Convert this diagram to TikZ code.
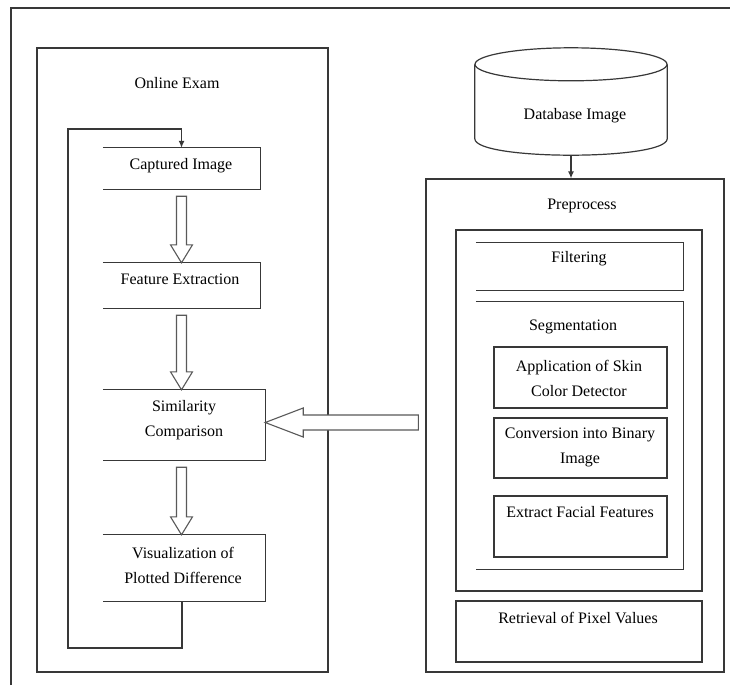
\documentclass[tikz,border=0pt]{standalone}
\usepackage{fontspec}
\setmainfont{Liberation Serif}
\usetikzlibrary{fit,calc,arrows.meta}
\newcommand\hdown[2]{\draw[harrow] let \p1=(#1.south -| cap.south), \p2=(#2.north) in
  (\x1-5pt,\y1-7pt) -- (\x1+5pt,\y1-7pt) -- (\x1+5pt,\y2+18pt) -- (\x1+11pt,\y2+18pt) --
  (\x1,\y2) -- (\x1-11pt,\y2+18pt) -- (\x1-5pt,\y2+18pt) -- cycle;}
\newcommand\openbox[1]{\draw[line] (#1.north west) -- (#1.north east) -- (#1.south east) -- (#1.south west);}
\begin{document}
\begin{tikzpicture}[x=1pt,y=-1pt,
  line/.style={draw=black!78, line width=1.2pt},
  box/.style={line, inner sep=0pt},
  area/.style={inner sep=0pt},
  txt/.style={font=\fontsize{16}{25}\selectfont, align=center, text=black, inner sep=0pt},
  harrow/.style={draw=black!65, line width=1.1pt, fill=white},
  tip/.style={-{Latex[length=7pt,width=6pt]}}]
\useasboundingbox (0,0) rectangle (730,685);
\fill[white] (0,0) rectangle (730,685);
% outer frame
\draw[line] (11,685) -- (11,8) -- (730,8);

% ---------- left part ----------
\node[box, fit={(37,48) (328,672)}] (online) {};
\node[txt] at (177,83) {Online Exam};

\node[area, fit={(103,148) (260,189)}] (cap) {};
\node[area, fit={(103,263) (260,308)}] (feat) {};
\node[area, fit={(103,390) (265,460)}] (sim) {};
\node[area, fit={(103,535) (265,601)}] (vis) {};
\openbox{cap}\openbox{feat}\openbox{sim}\openbox{vis}
\node[txt] at (181,166) {Captured Image};
\node[txt] at (180,279) {Feature Extraction};
\node[txt] at (184,420) {Similarity\\Comparison};
\node[txt] at (183,565) {Visualization of\\Plotted Difference};

\hdown{cap}{feat}
\hdown{feat}{sim}
\hdown{sim}{vis}

\coordinate (loopA) at (182,648);
\coordinate (loopB) at (68,648);
\coordinate (loopC) at (68,129);
\draw[line, tip] (vis.south -| loopA) -- (loopA) -- (loopB) -- (loopC) -| (cap.north);

% ---------- right part ----------
\node[area, fit={(475,48) (667,155)}] (db) {};
\draw[line] ($(db.north)+(0,16.5)$) ellipse [x radius=96pt, y radius=16.5pt];
\draw[line] ($(db.north west)+(0,16.5)$) -- ($(db.south west)+(0,-16.5)$)
  .. controls +(0,22) and +(0,22) .. ($(db.south east)+(0,-16.5)$) -- ($(db.north east)+(0,16.5)$);
\node[txt] at (575,116) {Database Image};

\node[box, fit={(426,179) (724,672)}] (pre) {};
\node[txt] at (582,206) {Preprocess};
\draw[line, tip] (db.south) -- (db.south |- pre.north);

\node[box, fit={(456,230) (702,591)}] (inner) {};
\node[area, fit={(476,243) (683,290)}] (filt) {};
\node[area, fit={(476,302) (683,569)}] (seg) {};
\openbox{filt}\openbox{seg}
\node[txt] at (579,259) {Filtering};
\node[txt] at (573,327) {Segmentation};

\node[box, fit={(494,347) (667,408)}] (app) {};
\node[box, fit={(494,418) (667,478)}] (conv) {};
\node[box, fit={(494,496) (667,557)}] (ext) {};
\node[txt] at (579,378) {Application of Skin\\Color Detector};
\node[txt] at (580,447) {Conversion into Binary\\Image};
\node[txt] at (580,512) {Extract Facial Features};

\node[box, fit={(456,601) (702,662)}] (ret) {};
\node[txt] at (578,618) {Retrieval of Pixel Values};

% big hollow arrow from preprocess to similarity comparison
\draw[harrow] let \p1=(pre.west), \p2=($(sim.east)+(0,-2.5)$) in
  (\x1-7pt,\y2+7.5pt) -- (\x2+38pt,\y2+7.5pt) -- (\x2+38pt,\y2+14.5pt) -- (\x2,\y2) --
  (\x2+38pt,\y2-14.5pt) -- (\x2+38pt,\y2-7.5pt) -- (\x1-7pt,\y2-7.5pt) -- cycle;
\end{tikzpicture}
\end{document}
